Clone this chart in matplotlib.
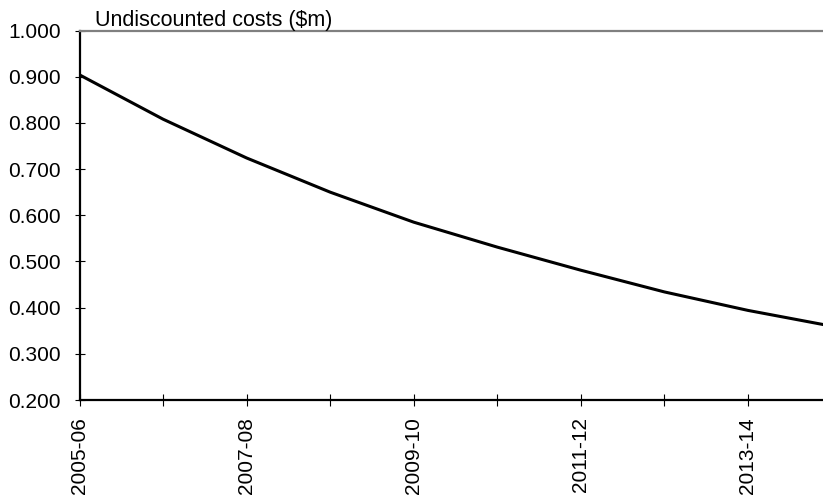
import matplotlib
matplotlib.use("Agg")
import matplotlib.pyplot as plt

years = ["2005-06", "2006-07", "2007-08", "2008-09", "2009-10",
         "2010-11", "2011-12", "2012-13", "2013-14", "2014-15"]
costs = [0.904, 0.808, 0.724, 0.650, 0.585, 0.531, 0.481, 0.434, 0.394, 0.360]
y_ticks = [0.2, 0.3, 0.4, 0.5, 0.6, 0.7, 0.8, 0.9, 1.0]

plt.rcParams["font.family"] = ["Liberation Sans", "DejaVu Sans"]

W, H = 823, 495
fig = plt.figure(figsize=(W / 100, H / 100), dpi=100)
left, right, bottom, top = 79.5, 831.5, 400, 30.5
ax = fig.add_axes([left / W, (H - bottom) / H, (right - left) / W, (bottom - top) / H])

x = list(range(len(years)))
ax.plot(x, costs, color="black", lw=2.2, solid_joinstyle="miter")

ax.set_xlim(0, len(years) - 1)
ax.set_ylim(0.2, 1.0)
ax.set_yticks(y_ticks)
ax.set_yticklabels(["%.3f" % v for v in y_ticks])
ax.set_xticks(x)
ax.set_xticklabels([y if i % 2 == 0 else "" for i, y in enumerate(years)], rotation=90)

for s in ["left", "bottom"]:
    ax.spines[s].set_color("black")
    ax.spines[s].set_linewidth(1.6)
ax.spines["top"].set_color("#808080")
ax.spines["top"].set_linewidth(1.6)
ax.spines["right"].set_visible(False)

ax.tick_params(axis="x", direction="inout", length=9, width=0.8, pad=8, labelsize=15)
ax.tick_params(axis="y", direction="inout", length=7, width=0.8, pad=10, labelsize=15)

ax.annotate("Undiscounted costs ($m)", xy=(0, 1), xycoords="axes fraction",
            xytext=(11, 3), textcoords="offset points", fontsize=15.5,
            va="baseline", ha="left")

fig.savefig("out.png", dpi=100)
